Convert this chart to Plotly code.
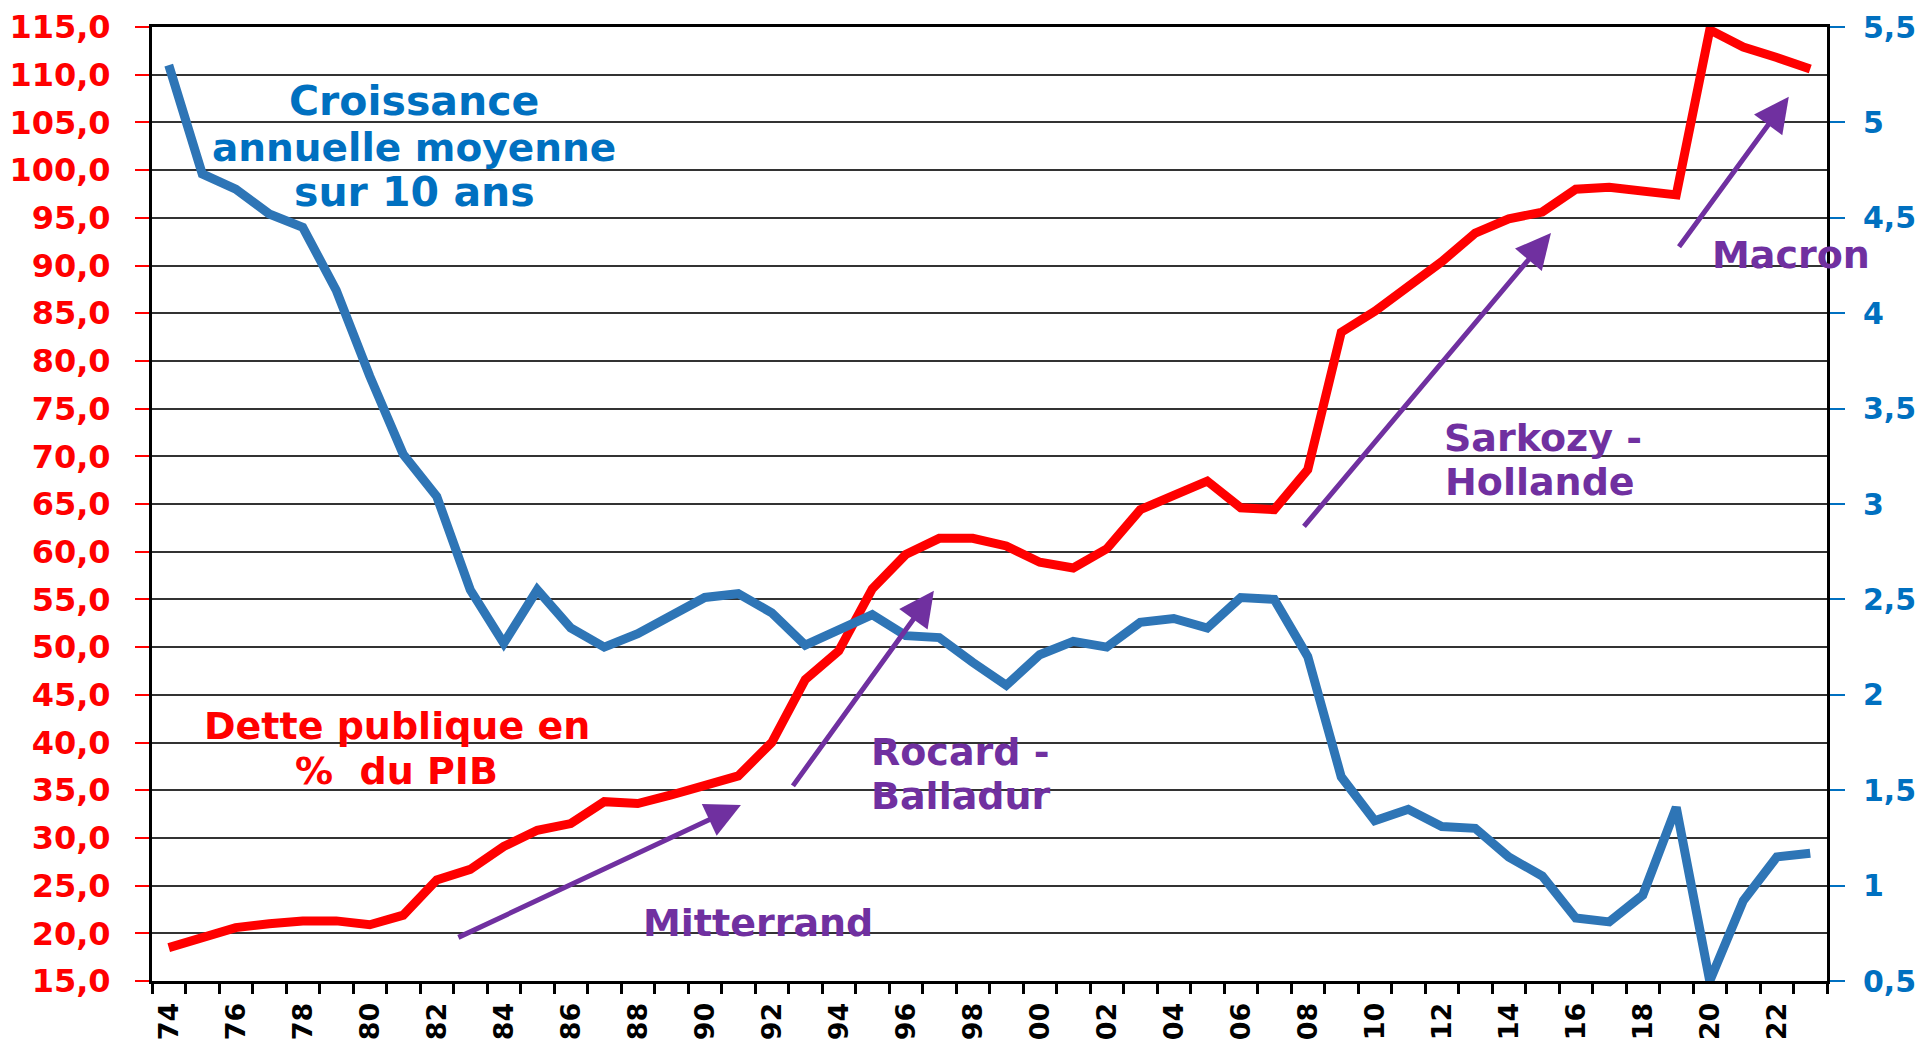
import plotly.graph_objects as go

# years 1974..2023
years = list(range(1974, 2024))
tick_years = list(range(1974, 2023, 2))
tick_labels = [f"{y % 100:02d}" for y in tick_years]

# public debt, % of GDP (left axis)
dette = [
    18.5, 19.6, 20.6, 21.0, 21.3, 21.3, 20.9, 21.9, 25.6, 26.7,
    29.1, 30.8, 31.5, 33.8, 33.6, 34.5, 35.6, 36.5, 40.0, 46.6,
    49.6, 56.1, 59.7, 61.4, 61.4, 60.6, 58.9, 58.3, 60.3, 64.4,
    65.9, 67.4, 64.6, 64.4, 68.6, 83.0, 85.2, 87.7, 90.4, 93.4,
    94.9, 95.6, 98.0, 98.2, 97.8, 97.4, 114.7, 112.9, 111.8, 110.6,
]

# 10-year average annual growth, % (right axis)
croissance = [
    5.30, 4.73, 4.65, 4.52, 4.45, 4.12, 3.67, 3.26, 3.04, 2.55,
    2.27, 2.55, 2.35, 2.25, 2.32, 2.41, 2.51, 2.53, 2.43, 2.26,
    2.34, 2.42, 2.31, 2.30, 2.17, 2.05, 2.21, 2.28, 2.25, 2.38,
    2.40, 2.35, 2.51, 2.50, 2.20, 1.57, 1.34, 1.40, 1.31, 1.30,
    1.15, 1.05, 0.83, 0.81, 0.95, 1.41, 0.50, 0.92, 1.15, 1.17,
]

RED = "#FF0000"
BLUE_LINE = "#2E75B6"
BLUE_TEXT = "#0070C0"
PURPLE = "#7030A0"
FONT = "DejaVu Sans"

fig = go.Figure()
fig.add_trace(go.Scatter(x=years, y=croissance, yaxis="y2", mode="lines",
                         line=dict(color=BLUE_LINE, width=9), showlegend=False))
fig.add_trace(go.Scatter(x=years, y=dette, mode="lines",
                         line=dict(color=RED, width=9), showlegend=False))

# text labels: (text, x, y, color, anchor, size)
labels = [
    ("<b>Croissance</b>", 1981.33, 107.2, BLUE_TEXT, "center", 41),
    ("<b>annuelle moyenne</b>", 1981.33, 102.4, BLUE_TEXT, "center", 39),
    ("<b>sur 10 ans</b>", 1981.33, 97.7, BLUE_TEXT, "center", 41),
    ("<b>Dette publique en</b>", 1980.8, 41.7, RED, "center", 38),
    ("<b>%\u00a0 du PIB</b>", 1980.8, 37.0, RED, "center", 38),
    ("<b>Mitterrand</b>", 1991.6, 21.1, PURPLE, "center", 38),
    ("<b>Rocard -</b>", 1994.9, 39.0, PURPLE, "left", 38),
    ("<b>Balladur</b>", 1994.9, 34.4, PURPLE, "left", 38),
    ("<b>Sarkozy -</b>", 2012.0, 71.9, PURPLE, "left", 38),
    ("<b>Hollande</b>", 2012.05, 67.3, PURPLE, "left", 38),
    ("<b>Macron</b>", 2020.0, 91.1, PURPLE, "left", 38),
]
for text, x, y, color, anchor, size in labels:
    fig.add_annotation(x=x, y=y, xref="x", yref="y", text=text, showarrow=False,
                       xanchor=anchor, yanchor="middle",
                       font=dict(family=FONT, size=size, color=color))

# arrows: (tail year, tail value, head year, head value)
arrows = [
    (1982.6, 19.5, 1991.08, 33.45),
    (1992.6, 35.3, 1996.84, 55.9),
    (2007.85, 62.5, 2015.26, 93.4),
    (2019.05, 91.8, 2022.36, 107.7),
]
for x0, y0, x1, y1 in arrows:
    fig.add_annotation(x=x1, y=y1, ax=x0, ay=y0, xref="x", yref="y",
                       axref="x", ayref="y", text="", showarrow=True,
                       arrowhead=2, arrowsize=1.4, arrowwidth=5,
                       arrowcolor=PURPLE, standoff=0)

fig.update_layout(
    width=1927, height=1043,
    margin=dict(l=152, r=100, t=27, b=62, autoexpand=False),
    paper_bgcolor="white", plot_bgcolor="white",
    separators=", ",
    xaxis=dict(
        range=[1973.5, 2023.5], tickmode="array", tickvals=tick_years,
        ticktext=tick_labels, tickangle=-90, ticks="", ticklabelstandoff=8,
        tickfont=dict(family=FONT, size=27, weight="bold", color="black"),
        showgrid=False, zeroline=False, automargin=False,
        showline=True, linecolor="black", linewidth=3, mirror=True,
        minor=dict(tick0=1973.5, dtick=1, ticks="outside", ticklen=10,
                   tickwidth=3, tickcolor="black", showgrid=False),
    ),
    xaxis2=dict(
        range=[1973.5, 2023.5], overlaying="x", anchor="y", side="bottom",
        tick0=1973.5, dtick=1, ticks="inside", ticklen=10, tickwidth=3,
        tickcolor="black", showticklabels=False, showgrid=False,
        zeroline=False, showline=False, automargin=False,
    ),
    yaxis=dict(
        range=[15, 115], dtick=5, tick0=15, tickformat=".1f",
        tickfont=dict(family=FONT, size=32, weight="bold", color=RED),
        ticks="outside", ticklen=14, tickwidth=2, tickcolor=RED,
        ticklabelstandoff=18, automargin=False,
        showgrid=True, gridcolor="#333333", gridwidth=2, zeroline=False,
        showline=True, linecolor="black", linewidth=3,
    ),
    yaxis2=dict(
        range=[0.5, 5.5], dtick=0.5, tick0=0.5, overlaying="y", side="right",
        tickfont=dict(family=FONT, size=30, weight="bold", color=BLUE_TEXT),
        ticks="outside", ticklen=15, tickwidth=2, tickcolor=BLUE_TEXT,
        ticklabelstandoff=12, automargin=False,
        showgrid=False, zeroline=False,
        showline=True, linecolor="black", linewidth=3,
    ),
)

# drop the default page margin so the 1927x1043 figure fills the window exactly
fig.write_html(
    "out.html",
    config={"displayModeBar": False},
    post_script="document.body.style.margin='0';document.body.style.overflow='hidden';",
)
